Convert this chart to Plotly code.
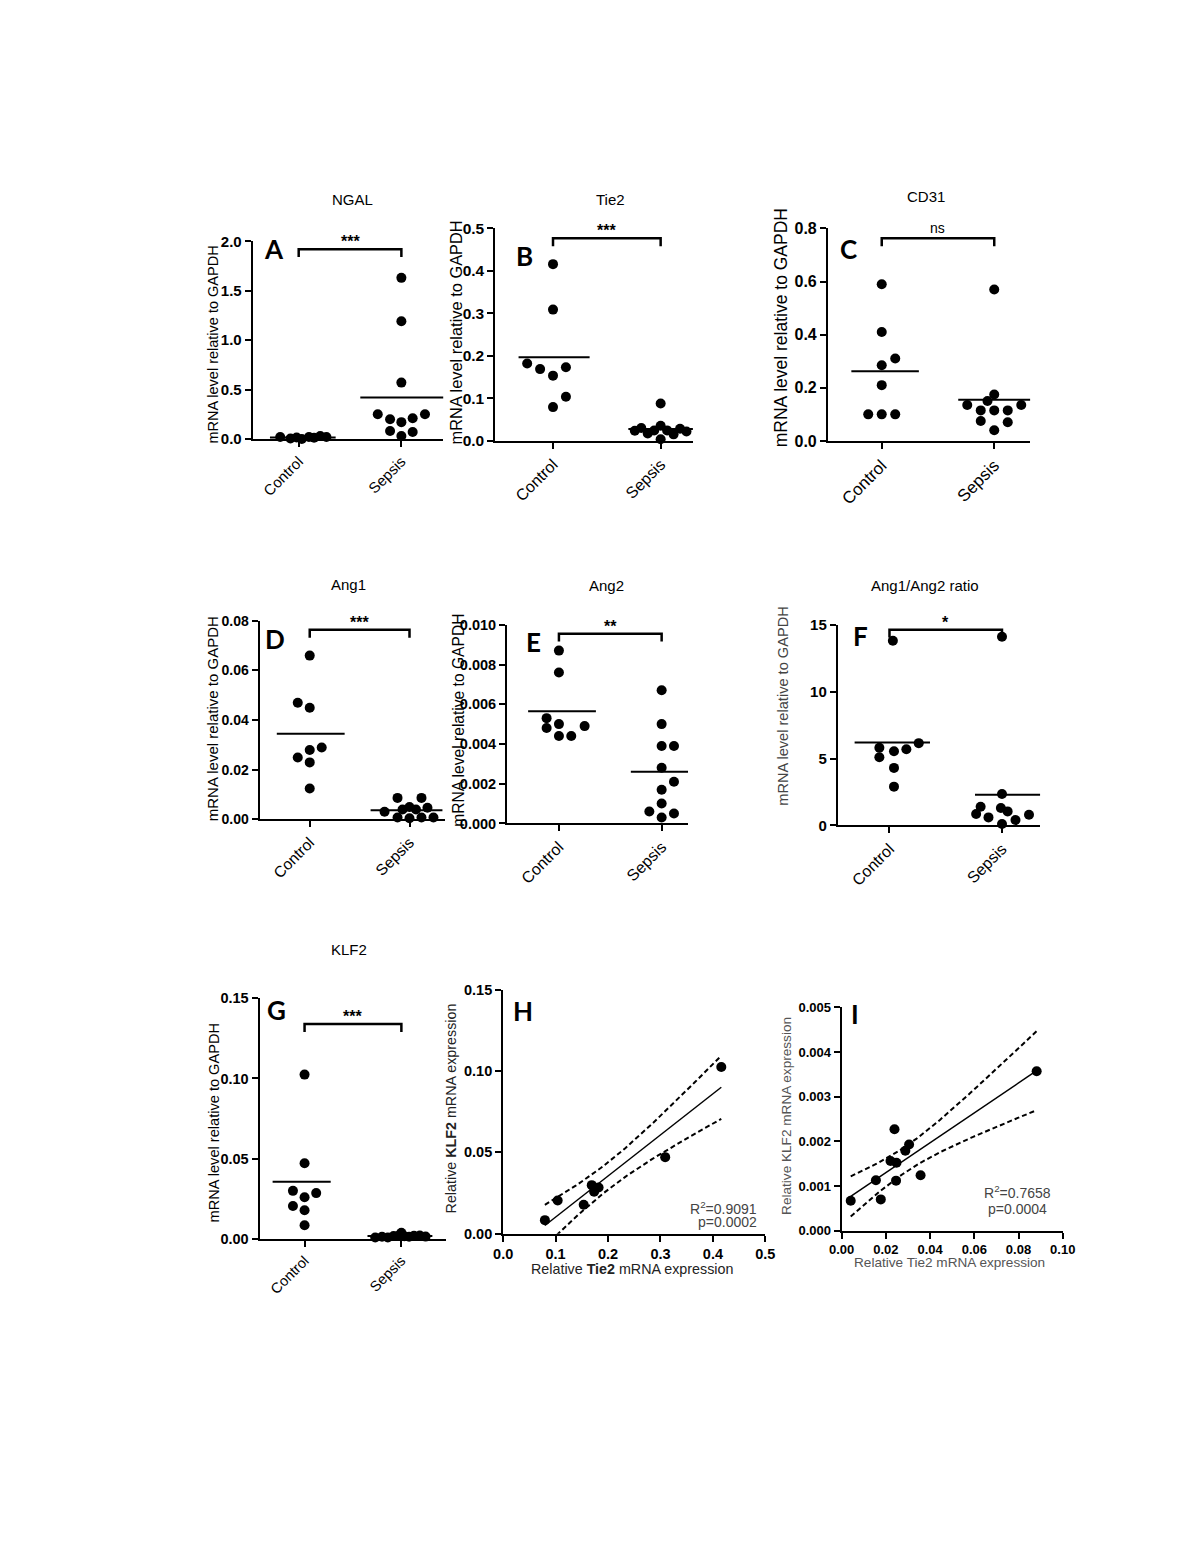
import numpy as np
import plotly.graph_objects as go

W, H = 1200, 1553
FONT = "Arial, 'Liberation Sans', sans-serif"
LETTER_FONT = "Lato, 'Open Sans', sans-serif"
GROUPS = ["Control", "Sepsis"]

# ---------------- data ----------------
ngal_control = [0.02, 0.005, 0.015, 0.0, 0.02, 0.012, 0.03, 0.02]
ngal_sepsis = [1.63, 1.19, 0.57, 0.25, 0.20, 0.17, 0.21, 0.25, 0.08, 0.03, 0.07]
ngal_means = [0.015, 0.42]

tie2_control = [0.416, 0.309, 0.182, 0.169, 0.1735, 0.1536, 0.104, 0.0796]
tie2_sepsis = [0.0041, 0.0155, 0.0177, 0.0221, 0.0239, 0.0248, 0.0246, 0.0288, 0.0305, 0.0357, 0.0882]
tie2_means = [0.197, 0.028]

cd31_control = [0.59, 0.41, 0.31, 0.285, 0.21, 0.10, 0.10, 0.10]
cd31_sepsis = [0.57, 0.175, 0.15, 0.135, 0.135, 0.115, 0.115, 0.115, 0.075, 0.07, 0.04]
cd31_means = [0.262, 0.155]

ang1_control = [0.066, 0.047, 0.045, 0.029, 0.028, 0.025, 0.023, 0.0125]
ang1_sepsis = [0.0087, 0.0087, 0.0031, 0.0040, 0.0050, 0.0040, 0.0047, 0.0008, 0.0005, 0.0008, 0.0008]
ang1_means = [0.0345, 0.0037]

ang2_control = [0.0087, 0.0076, 0.0053, 0.0050, 0.0048, 0.0049, 0.0044, 0.0044]
ang2_sepsis = [0.0067, 0.0050, 0.0039, 0.0039, 0.0028, 0.0021, 0.0017, 0.0010, 0.0006, 0.0005, 0.0003]
ang2_means = [0.00565, 0.0026]

ratio_control = [13.8, 6.15, 5.8, 5.7, 5.55, 5.1, 4.3, 2.9]
ratio_sepsis = [14.1, 2.35, 1.4, 1.3, 1.05, 0.85, 0.8, 0.6, 0.4, 0.1]
ratio_means = [6.2, 2.3]

klf2_control = [0.1024, 0.047, 0.0284, 0.0298, 0.0258, 0.0177, 0.0204, 0.0083]
klf2_sepsis = [0.00067, 0.00113, 0.00070, 0.00156, 0.00227, 0.00152, 0.00112, 0.00179, 0.00193, 0.00124, 0.00357]
klf2_means = [0.0355, 0.0016]

h_stats = ["R<sup>2</sup>=0.9091", "p=0.0002"]
i_stats = ["R<sup>2</sup>=0.7658", "p=0.0004"]

T_CRIT_DF6 = 2.4469   # two-sided 95% t, df = 6
T_CRIT_DF9 = 2.2622   # two-sided 95% t, df = 9

# ---------------- horizontal scatter of dots (positions only) ----------------
OFF_NGAL = ([-0.18, -0.08, -0.02, 0.03, 0.10, 0.15, 0.21, 0.27],
            [0, 0, 0, -0.23, -0.11, 0, 0.11, 0.23, -0.11, 0, 0.11])
OFF_TIE2 = ([0, 0, -0.24, -0.12, 0.12, 0, 0.12, 0],
            [0, 0.12, -0.12, 0.24, -0.24, 0.06, -0.06, 0.18, -0.18, 0, 0])
OFF_CD31 = ([0, 0, 0.12, 0, 0, -0.12, 0, 0.12],
            [0, 0, -0.06, -0.24, 0.24, -0.12, 0, 0.12, -0.12, 0.12, 0])
OFF_ANG1 = ([0, -0.12, 0, 0.12, 0, -0.12, 0, 0],
            [-0.12, 0.12, -0.25, -0.07, 0, 0.065, 0.18, -0.12, 0, 0.12, 0.24])
OFF_ANG2 = ([0, 0, -0.12, 0, -0.12, 0.25, 0, 0.12],
            [0, 0, 0, 0.12, 0, 0.12, 0, 0, -0.12, 0.12, 0])
OFF_RATIO = ([0.03, 0.26, -0.09, 0.15, 0.04, -0.09, 0.04, 0.04],
             [0, 0, -0.19, -0.01, 0.05, -0.23, 0.24, -0.12, 0.12, 0])
OFF_KLF2 = ([0, 0, 0.12, -0.12, 0, 0, -0.12, 0],
            [-0.27, -0.2, -0.14, -0.08, -0.02, 0.03, 0.08, 0.13, 0.19, 0.25, 0])

fig = go.Figure()
annotations = []
shapes = []


def names(i):
    s = "" if i == 1 else str(i)
    return "x" + s, "y" + s, "xaxis" + s, "yaxis" + s


def axis_common():
    return dict(showgrid=False, zeroline=False, showline=True, linecolor="black",
                linewidth=2, ticks="outside", ticklen=6, tickwidth=2,
                tickcolor="black", fixedrange=True)


def add_text(x, y, text, size, color="black", angle=0, family=FONT,
             weight="normal", xanchor="center", yanchor="middle"):
    annotations.append(dict(x=x / W, y=1 - y / H, xref="paper", yref="paper",
                            text=text, showarrow=False, textangle=angle,
                            font=dict(family=family, size=size, color=color, weight=weight),
                            xanchor=xanchor, yanchor=yanchor))


def dot_panel(p):
    xn, yn, xa, ya = names(p["i"])
    x0, x1, y0, y1 = p["box"]
    for g, (vals, offs) in enumerate([(p["ctrl"], p["off"][0]), (p["seps"], p["off"][1])]):
        fig.add_trace(go.Scatter(x=[g + o for o in offs], y=vals, mode="markers",
                                 marker=dict(color="black", size=10),
                                 xaxis=xn, yaxis=yn, cliponaxis=False, hoverinfo="skip"))
        m = p["means"][g]
        lo, hi = p["mw"][g]
        fig.add_trace(go.Scatter(x=[g + lo, g + hi], y=[m, m], mode="lines",
                                 line=dict(color="black", width=2),
                                 xaxis=xn, yaxis=yn, hoverinfo="skip"))
    fs = p["fs"]
    fig.update_layout(**{
        xa: dict(domain=[x0 / W, x1 / W], range=list(p["xr"]), anchor=yn,
                 tickvals=[0, 1], ticktext=GROUPS, tickangle=-45,
                 tickfont=dict(family=FONT, size=p["xfs"], color="black"), **axis_common()),
        ya: dict(domain=[1 - y1 / H, 1 - y0 / H], range=list(p["yr"]), anchor=xn,
                 tick0=0, dtick=p["dtick"], tickformat=p["fmt"],
                 tickfont=dict(family=FONT, size=fs, color="black", weight="bold"),
                 **axis_common()),
    })
    yt, ye = p["bracket"]
    shapes.append(dict(type="path", path=f"M 0,{ye} L 0,{yt} L 1,{yt} L 1,{ye}",
                       xref=xn, yref=yn, line=dict(color="black", width=2.5)))
    is_ns = p["sig"] == "ns"
    annotations.append(dict(x=0.5, y=yt, xref=xn, yref=yn, text=p["sig"], showarrow=False,
                            yanchor="bottom", yshift=-3 if not is_ns else 0,
                            font=dict(family=FONT, size=14 if is_ns else 16, color="black",
                                      weight="normal" if is_ns else "bold")))
    tx, ty = p["title_xy"]
    add_text(tx, ty, p["title"], 15)
    lx, ly = p["letter_xy"]
    add_text(lx, ly, p["letter"], 26, family=LETTER_FONT, weight="bold")
    yx, yy, ysz, ycol = p["ylab"]
    add_text(yx, yy, "mRNA level relative to GAPDH", ysz, color=ycol, angle=-90)


def reg_panel(p):
    xn, yn, xa, ya = names(p["i"])
    x0, x1, y0, y1 = p["box"]
    xs = np.asarray(p["x"], dtype=float)
    ys = np.asarray(p["y"], dtype=float)
    slope, intercept = np.polyfit(xs, ys, 1)
    xx = np.linspace(xs.min(), xs.max(), 80)
    yhat = slope * xx + intercept
    resid = ys - (slope * xs + intercept)
    s = np.sqrt(np.sum(resid ** 2) / (len(xs) - 2))
    sxx = np.sum((xs - xs.mean()) ** 2)
    se = s * np.sqrt(1.0 / len(xs) + (xx - xs.mean()) ** 2 / sxx)
    for band in (yhat + p["t"] * se, yhat - p["t"] * se):
        fig.add_trace(go.Scatter(x=xx, y=band, mode="lines",
                                 line=dict(color="black", width=2, dash="5px,3px"),
                                 xaxis=xn, yaxis=yn, hoverinfo="skip"))
    fig.add_trace(go.Scatter(x=xx, y=yhat, mode="lines", line=dict(color="black", width=1.5),
                             xaxis=xn, yaxis=yn, hoverinfo="skip"))
    fig.add_trace(go.Scatter(x=xs, y=ys, mode="markers", marker=dict(color="black", size=10),
                             xaxis=xn, yaxis=yn, cliponaxis=False, hoverinfo="skip"))
    fs = p["fs"]
    fig.update_layout(**{
        xa: dict(domain=[x0 / W, x1 / W], range=list(p["xr"]), anchor=yn,
                 tick0=0, dtick=p["xd"], tickformat=p["xfmt"],
                 tickfont=dict(family=FONT, size=fs, color="black", weight="bold"),
                 **axis_common()),
        ya: dict(domain=[1 - y1 / H, 1 - y0 / H], range=list(p["yr"]), anchor=xn,
                 tick0=0, dtick=p["yd"], tickformat=p["yfmt"],
                 tickfont=dict(family=FONT, size=fs, color="black", weight="bold"),
                 **axis_common()),
    })
    lx, ly = p["letter_xy"]
    add_text(lx, ly, p["letter"], 26, family=LETTER_FONT, weight="bold")
    yx, yy, ysz, ycol = p["ylab"]
    add_text(yx, yy, p["ytitle"], ysz, color=ycol, angle=-90)
    xx_, xy_, xsz, xcol = p["xlab"]
    add_text(xx_, xy_, p["xtitle"], xsz, color=xcol)
    (sx, sy1, sy2, anchor) = p["stats_xy"]
    add_text(sx, sy1, p["stats"][0], 14, color="#444", xanchor=anchor)
    add_text(sx, sy2, p["stats"][1], 14, color="#444", xanchor=anchor)


dot_panels = [
    dict(i=1, ctrl=ngal_control, seps=ngal_sepsis, means=ngal_means, off=OFF_NGAL,
         mw=((-0.28, 0.36), (-0.40, 0.41)), box=(245, 440, 235, 435), xr=(-0.448, 1.41),
         yr=(0, 2.0), dtick=0.5, fmt=".1f", fs=15, xfs=15, title="NGAL", title_xy=(347, 193),
         letter="A", letter_xy=(267, 243), ylab=(205, 340, 14.5, "black"),
         bracket=(1.92, 1.84), sig="***"),
    dict(i=2, ctrl=tie2_control, seps=tie2_sepsis, means=tie2_means, off=OFF_TIE2,
         mw=((-0.32, 0.34), (-0.30, 0.30)), box=(493, 695, 222, 437), xr=(-0.536, 1.30),
         yr=(0, 0.5), dtick=0.1, fmt=".1f", fs=15.5, xfs=16, title="Tie2", title_xy=(611, 193),
         letter="B", letter_xy=(523, 250), ylab=(453, 327, 16.4, "black"),
         bracket=(0.477, 0.458), sig="***"),
    dict(i=3, ctrl=cd31_control, seps=cd31_sepsis, means=cd31_means, off=OFF_CD31,
         mw=((-0.27, 0.33), (-0.32, 0.32)), box=(833, 1040, 222, 437), xr=(-0.478, 1.322),
         yr=(0, 0.8), dtick=0.2, fmt=".1f", fs=16, xfs=17, title="CD31", title_xy=(933, 190),
         letter="C", letter_xy=(854, 243), ylab=(785, 322, 17.5, "black"),
         bracket=(0.763, 0.733), sig="ns"),
    dict(i=4, ctrl=ang1_control, seps=ang1_sepsis, means=ang1_means, off=OFF_ANG1,
         mw=((-0.33, 0.35), (-0.39, 0.33)), box=(252, 442, 619, 820), xr=(-0.503, 1.36),
         yr=(0, 0.08), dtick=0.02, fmt=".2f", fs=14, xfs=15.5, title="Ang1", title_xy=(343, 582),
         letter="D", letter_xy=(268, 637), ylab=(204, 718, 15, "black"),
         bracket=(0.0764, 0.0732), sig="***"),
    dict(i=5, ctrl=ang2_control, seps=ang2_sepsis, means=ang2_means, off=OFF_ANG2,
         mw=((-0.30, 0.36), (-0.30, 0.26)), box=(505, 690, 623, 824), xr=(-0.505, 1.257),
         yr=(0, 0.010), dtick=0.002, fmt=".3f", fs=14.5, xfs=16, title="Ang2", title_xy=(607, 583),
         letter="E", letter_xy=(532, 640), ylab=(456, 720, 15.6, "black"),
         bracket=(0.00955, 0.00916), sig="**"),
    dict(i=6, ctrl=ratio_control, seps=ratio_sepsis, means=ratio_means, off=OFF_RATIO,
         mw=((-0.31, 0.36), (-0.24, 0.34)), box=(843, 1050, 623, 826), xr=(-0.46, 1.34),
         yr=(0, 15), dtick=5, fmt="d", fs=15, xfs=16, title="Ang1/Ang2 ratio", title_xy=(932, 583),
         letter="F", letter_xy=(866, 634), ylab=(787, 705, 14.6, "#444"),
         bracket=(14.63, 14.04), sig="*"),
    dict(i=7, ctrl=klf2_control, seps=klf2_sepsis, means=klf2_means, off=OFF_KLF2,
         mw=((-0.33, 0.27), (-0.35, 0.32)), box=(252, 443, 1001, 1244), xr=(-0.465, 1.465),
         yr=(0, 0.15), dtick=0.05, fmt=".2f", fs=14.5, xfs=14.5, title="KLF2", title_xy=(343, 952),
         letter="G", letter_xy=(269, 1013), ylab=(205, 1127, 14.6, "black"),
         bracket=(0.134, 0.129), sig="***"),
]

reg_panels = [
    dict(i=8, x=tie2_control, y=klf2_control, t=T_CRIT_DF6, box=(501, 769, 992, 1239),
         xr=(0, 0.5), yr=(0, 0.15), xd=0.1, yd=0.05, xfmt=".1f", yfmt=".2f", fs=14.5,
         letter="H", letter_xy=(521, 1014),
         ytitle="Relative <b>KLF2</b> mRNA expression", ylab=(448, 1112, 14.3, "#222"),
         xtitle="Relative <b>Tie2</b> mRNA expression", xlab=(633, 1275, 14.3, "#222"),
         stats=h_stats, stats_xy=(763, 1213, 1227, "right")),
    dict(i=9, x=tie2_sepsis, y=klf2_sepsis, t=T_CRIT_DF9, box=(847, 1073, 1010, 1236),
         xr=(0, 0.10), yr=(0, 0.005), xd=0.02, yd=0.001, xfmt=".2f", yfmt=".3f", fs=13,
         letter="I", letter_xy=(861, 1017),
         ytitle="Relative KLF2 mRNA expression", ylab=(790, 1120, 13.6, "#555"),
         xtitle="Relative Tie2 mRNA expression", xlab=(957, 1268, 13.6, "#555"),
         stats=i_stats, stats_xy=(1027, 1197, 1214, "center")),
]

for p in dot_panels:
    dot_panel(p)
for p in reg_panels:
    reg_panel(p)

fig.update_layout(width=W, height=H, margin=dict(l=0, r=0, t=0, b=0),
                  paper_bgcolor="white", plot_bgcolor="white", showlegend=False,
                  annotations=annotations, shapes=shapes,
                  font=dict(family=FONT, color="black"))

fig.write_html("out.html", config={"displayModeBar": False},
               post_script="document.body.style.margin='0';")
